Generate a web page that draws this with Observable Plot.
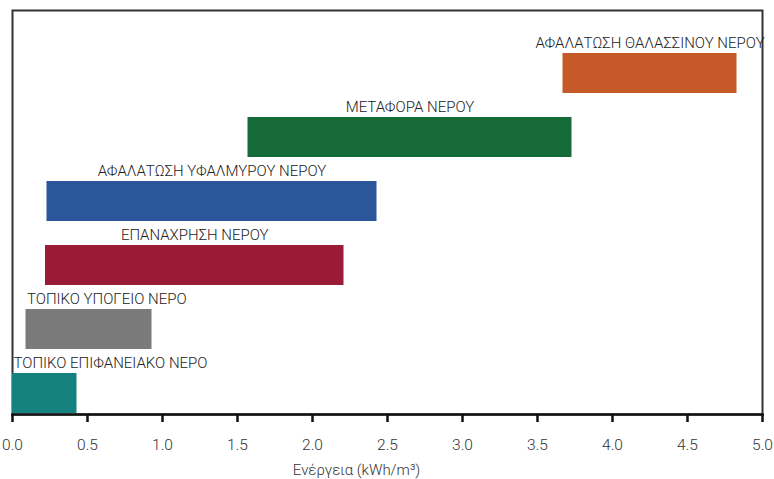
<!DOCTYPE html>
<html>
<head>
<meta charset="utf-8">
<script src="https://cdn.jsdelivr.net/npm/d3@7"></script>
<script src="https://cdn.jsdelivr.net/npm/@observablehq/plot@0.6"></script>
<style>
  html, body { margin: 0; padding: 0; background: #fff; }
  #chart svg { display: block; }
  #chart svg [aria-label="x-axis tick"] { stroke: #111 !important; stroke-width: 2.5px !important; }
</style>
</head>
<body>
<div id="chart"></div>
<script>
const categories = [
  "ΤΟΠΙΚΟ ΕΠΙΦΑΝΕΙΑΚΟ ΝΕΡΟ",
  "ΤΟΠΙΚΟ ΥΠΟΓΕΙΟ ΝΕΡΟ",
  "ΕΠΑΝΑΧΡΗΣΗ ΝΕΡΟΥ",
  "ΑΦΑΛΑΤΩΣΗ ΥΦΑΛΜΥΡΟΥ ΝΕΡΟΥ",
  "ΜΕΤΑΦΟΡΑ ΝΕΡΟΥ",
  "ΑΦΑΛΑΤΩΣΗ ΘΑΛΑΣΣΙΝΟΥ ΝΕΡΟΥ"
];
const minValues = [0.0, 0.09, 0.22, 0.23, 1.57, 3.67];
const maxValues = [0.43, 0.93, 2.21, 2.43, 3.73, 4.83];
const colors = ["#15827f", "#7a7a7a", "#9a1b36", "#2b5699", "#166a38", "#c55a28"];
const labelAlign = ["start", "start", "middle", "middle", "middle", "middle"];
const xTicks = [0, 0.5, 1, 1.5, 2, 2.5, 3, 3.5, 4, 4.5, 5];
const xLabel = "Ενέργεια (kWh/m³)";

const data = categories.map((c, i) => ({
  cat: c, x1: minValues[i], x2: maxValues[i], color: colors[i], align: labelAlign[i],
  lx: labelAlign[i] === "start" ? minValues[i] : (minValues[i] + maxValues[i]) / 2
}));
const startLabels = data.filter(d => d.align === "start");
const midLabels = data.filter(d => d.align === "middle");

const font = "Roboto, Lato, sans-serif";

const chart = Plot.plot({
  width: 774,
  height: 479,
  marginLeft: 12,
  marginRight: 12,
  marginTop: 10,
  marginBottom: 65,
  style: { fontFamily: font, background: "#fff" },
  x: { domain: [0, 5], ticks: xTicks, tickFormat: d3.format(".1f") },
  y: { domain: categories.slice().reverse(), range: [52, 414], paddingInner: 0.38, paddingOuter: 0, axis: null },
  marks: [
    Plot.frame({ stroke: "#333", strokeWidth: 2 }),
    Plot.barX(data, { y: "cat", x1: "x1", x2: "x2", fill: "color" }),
    Plot.text(midLabels, { x: "lx", y: "cat", text: "cat", textAnchor: "middle", dy: -30, fontSize: 15, fontWeight: 300, fill: "#222" }),
    Plot.text(startLabels, { x: "lx", y: "cat", text: "cat", textAnchor: "start", dx: 1, dy: -30, fontSize: 15, fontWeight: 300, fill: "#222" }),
    Plot.frame({ anchor: "bottom", stroke: "#111", strokeWidth: 2.5 }),
    Plot.axisX({ ticks: xTicks, tickFormat: d3.format(".1f"), tickSize: 8, tickPadding: 16, fontSize: 15.5, fontWeight: 300, stroke: "#111", strokeWidth: 2.5, label: null, fill: "#333" }),
    Plot.text([xLabel], { frameAnchor: "bottom", dy: 60, text: d => d, fontSize: 15, fontWeight: 300, fill: "#333", dx: -31 })
  ]
});

document.getElementById("chart").appendChild(chart);
</script>
</body>
</html>
